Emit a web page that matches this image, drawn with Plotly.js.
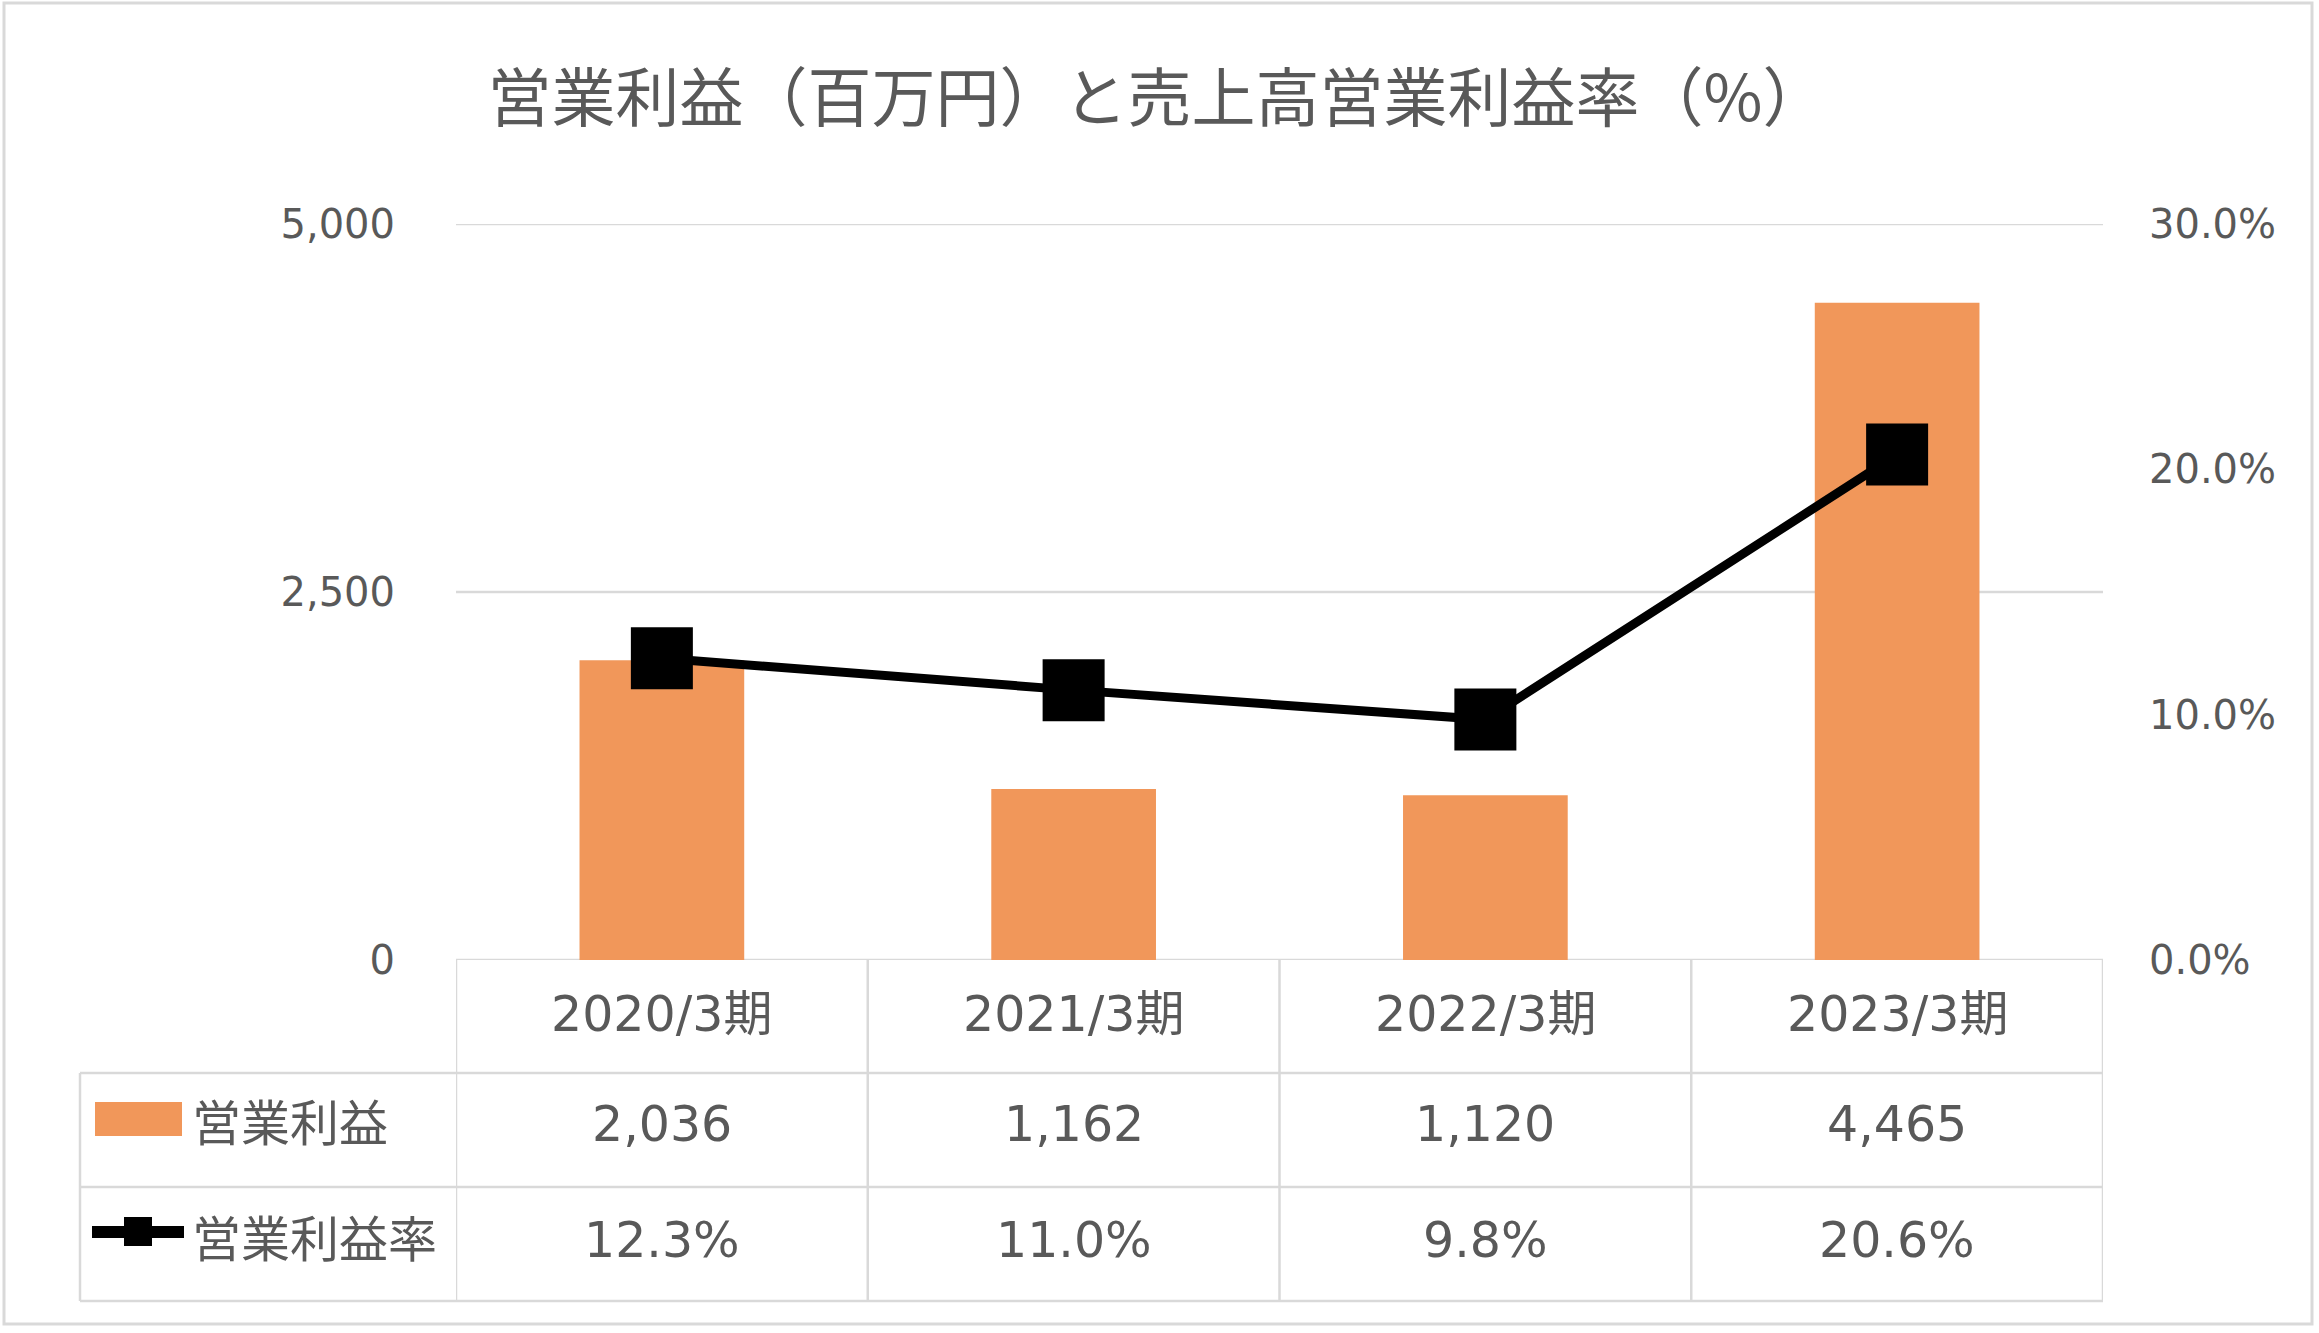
<!DOCTYPE html>
<html>
<head>
<meta charset="utf-8">
<script src="https://cdn.plot.ly/plotly-3.0.1.min.js"></script>
<style>html,body{margin:0;padding:0;background:#fff;}#chart{width:2319px;height:1333px;}</style>
</head>
<body>
<div id="chart"></div>
<script>
// ---- data ----
const categories = ['2020/3期', '2021/3期', '2022/3期', '2023/3期'];
const operatingProfit = [2036, 1162, 1120, 4465];          // 百万円
const operatingMargin = [12.3, 11.0, 9.8, 20.6];          // %
const leftTicks = [0, 2500, 5000];
const leftTickText = ['0', '2,500', '5,000'];
const rightTicks = [0, 10, 20, 30];
const rightTickText = ['0.0%', '10.0%', '20.0%', '30.0%'];
const seriesNames = ['営業利益', '営業利益率'];
const titleText = '営業利益（百万円）と売上高営業利益率（%）';

// ---- layout helpers ----
const W = 2319, H = 1333;
const X = px => px / W;
const Y = py => 1 - py / H;
const FONT = '"DejaVu Sans", "Noto Sans CJK JP", sans-serif';
const TXT = '#595959';
const GRID = '#D9D9D9';
const ORANGE = '#F1975A';

const rowTop = 960, row1 = 1073, row2 = 1187, row3 = 1301;
const tableLeft = 80;

const traces = [
  {
    type: 'bar', x: categories, y: operatingProfit, name: seriesNames[0],
    marker: {color: ORANGE, line: {width: 0}}, yaxis: 'y', hoverinfo: 'skip'
  },
  {
    type: 'scatter', mode: 'lines+markers', x: categories, y: operatingMargin, name: seriesNames[1],
    yaxis: 'y2', line: {color: '#000000', width: 9},
    marker: {symbol: 'square', size: 62, color: '#000000', line: {width: 0}}, hoverinfo: 'skip'
  }
];

const shapes = [];
// horizontal gridlines (value axis)
leftTicks.forEach(v => shapes.push({type: 'line', xref: 'x domain', yref: 'y', x0: 0, x1: 1, y0: v, y1: v, line: {color: GRID, width: 2.5}, layer: 'below'}));
// horizontal table lines
[row1, row2, row3].forEach(r => shapes.push({type: 'line', xref: 'paper', yref: 'paper', x0: X(tableLeft), x1: X(2103), y0: Y(r), y1: Y(r), line: {color: GRID, width: 2.5}}));
// vertical table lines at category boundaries
for (let i = 0; i <= categories.length; i++) {
  shapes.push({type: 'line', xref: 'x', yref: 'paper', x0: i - 0.5, x1: i - 0.5, y0: Y(rowTop), y1: Y(row3), line: {color: GRID, width: 2.5}});
}
shapes.push({type: 'line', xref: 'paper', yref: 'paper', x0: X(tableLeft), x1: X(tableLeft), y0: Y(row1), y1: Y(row3), line: {color: GRID, width: 2.5}});
// outer chart border
shapes.push({type: 'rect', xref: 'paper', yref: 'paper', x0: X(4), x1: X(2312), y0: Y(1324), y1: Y(3), line: {color: GRID, width: 3}, fillcolor: 'rgba(0,0,0,0)'});
// legend keys in the data table
shapes.push({type: 'rect', xref: 'paper', yref: 'paper', x0: X(95), x1: X(182), y0: Y(1136), y1: Y(1102), line: {width: 0}, fillcolor: ORANGE});
shapes.push({type: 'line', xref: 'paper', yref: 'paper', x0: X(92), x1: X(184), y0: Y(1232), y1: Y(1232), line: {color: '#000', width: 12}});
shapes.push({type: 'rect', xref: 'paper', yref: 'paper', x0: X(124), x1: X(152), y0: Y(1246), y1: Y(1217), line: {width: 0}, fillcolor: '#000'});

const annotations = [];
const tfont = {family: FONT, size: 49, color: TXT};
categories.forEach((c, i) => {
  annotations.push({xref: 'x', yref: 'paper', x: c, y: Y(1014), text: c, showarrow: false, xanchor: 'center', yanchor: 'middle', font: tfont});
  annotations.push({xref: 'x', yref: 'paper', x: c, y: Y(1124), text: operatingProfit[i].toLocaleString('en-US'), showarrow: false, xanchor: 'center', yanchor: 'middle', font: tfont});
  annotations.push({xref: 'x', yref: 'paper', x: c, y: Y(1240), text: operatingMargin[i].toFixed(1) + '%', showarrow: false, xanchor: 'center', yanchor: 'middle', font: tfont});
});
annotations.push({xref: 'paper', yref: 'paper', x: X(190), y: Y(1124), text: seriesNames[0], showarrow: false, xanchor: 'left', yanchor: 'middle', font: tfont});
annotations.push({xref: 'paper', yref: 'paper', x: X(190), y: Y(1240), text: seriesNames[1], showarrow: false, xanchor: 'left', yanchor: 'middle', font: tfont});

const layout = {
  width: W, height: H,
  margin: {l: 0, r: 0, t: 0, b: 0, pad: 0},
  paper_bgcolor: '#ffffff', plot_bgcolor: '#ffffff',
  showlegend: false,
  bargap: 0.6,
  title: {text: titleText, x: X(1157), xanchor: 'center', y: Y(99), yanchor: 'middle', xref: 'paper', yref: 'paper',
          font: {family: '"Noto Sans CJK JP", "DejaVu Sans", sans-serif', size: 64, color: TXT}},
  xaxis: {
    domain: [X(456), X(2103)], type: 'category', range: [-0.5, 3.5],
    showticklabels: false, showgrid: false, zeroline: false, showline: false, ticks: '', fixedrange: true
  },
  yaxis: {
    domain: [Y(960), Y(224)], range: [0, 5000], tickmode: 'array', tickvals: leftTicks, ticktext: leftTickText,
    showgrid: false, zeroline: false, showline: false,
    ticks: '', ticklabelstandoff: 60,
    tickfont: {family: FONT, size: 40, color: TXT}, fixedrange: true
  },
  yaxis2: {
    overlaying: 'y', side: 'right', anchor: 'x', range: [0, 30], tickmode: 'array', tickvals: rightTicks, ticktext: rightTickText,
    showgrid: false, zeroline: false, showline: false,
    ticks: '', ticklabelstandoff: 45,
    tickfont: {family: FONT, size: 40, color: TXT}, fixedrange: true
  },
  shapes: shapes,
  annotations: annotations,
  font: {family: FONT, color: TXT}
};

Plotly.newPlot('chart', traces, layout, {displayModeBar: false, staticPlot: true});
</script>
</body>
</html>
